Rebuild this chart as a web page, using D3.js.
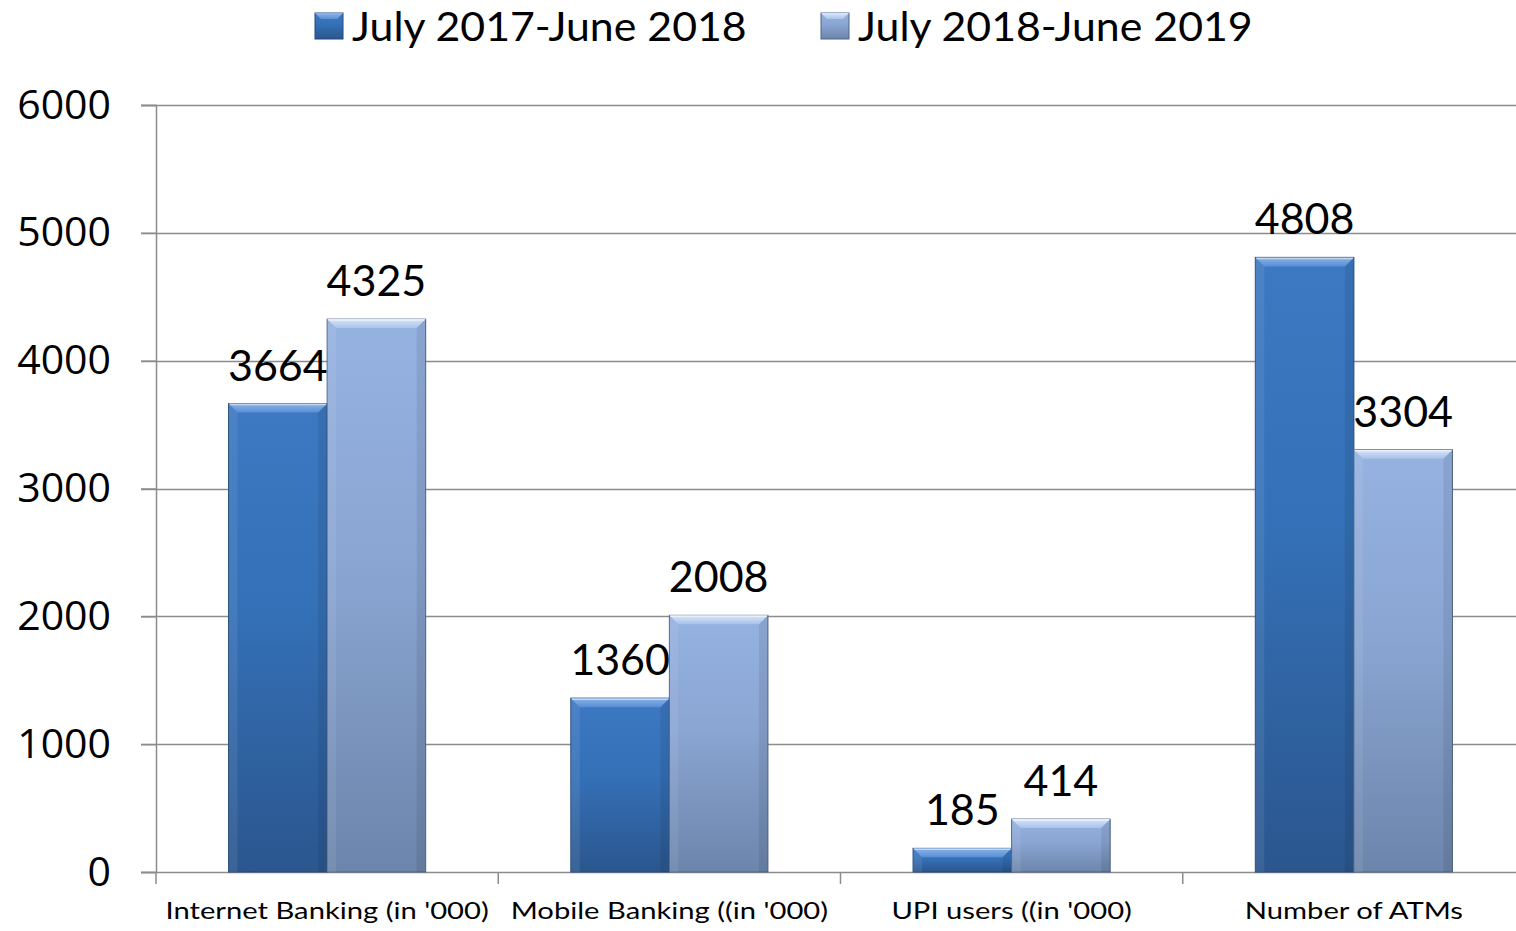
<!DOCTYPE html>
<html>
<head>
<meta charset="utf-8">
<script src="https://cdn.jsdelivr.net/npm/d3@7"></script>
<style>
  html, body { margin: 0; padding: 0; background: #ffffff; }
  svg { display: block; }
</style>
</head>
<body>
<svg id="chart" width="1516" height="931"></svg>
<script>
// Chart data
const categories = ["Internet Banking (in '000)", "Mobile Banking ((in '000)", "UPI users ((in '000)", "Number of ATMs"];
const seriesNames = ["July 2017-June 2018", "July 2018-June 2019"];
const values2017_18 = [3664, 1360, 185, 4808];
const values2018_19 = [4325, 2008, 414, 3304];
const yTicks = [0, 1000, 2000, 3000, 4000, 5000, 6000];

const seriesValues = [values2017_18, values2018_19];

const svg = d3.select("#chart");
const W = 1516, H = 931;

const plot = { left: 156, right: 1525, top: 105, bottom: 872 };

const x0 = d3.scaleBand().domain(categories).range([plot.left, plot.right]).paddingInner(0).paddingOuter(0);
const x1 = d3.scaleBand().domain(seriesNames).range([x0.bandwidth() * 0.212, x0.bandwidth() * 0.788]).padding(0);
const y = d3.scaleLinear().domain([0, 6000]).range([plot.bottom, plot.top]);

// Gradients for bar bodies and top bevels
const defs = svg.append("defs");
const palettes = [
  { body: ["#3d79c3", "#3470b6", "#2b568e"], bevel: ["#8fb6ea", "#5a8fd6"], stroke: "#24497a" },
  { body: ["#95b2e1", "#8aa5d2", "#6c85ab"], bevel: ["#dbe8fa", "#aac3ea"], stroke: "#4f6486" }
];
palettes.forEach((p, i) => {
  const g = defs.append("linearGradient").attr("id", "body" + i)
    .attr("x1", 0).attr("y1", 0).attr("x2", 0).attr("y2", 1);
  g.append("stop").attr("offset", "0%").attr("stop-color", p.body[0]);
  g.append("stop").attr("offset", "45%").attr("stop-color", p.body[1]);
  g.append("stop").attr("offset", "100%").attr("stop-color", p.body[2]);
  const b = defs.append("linearGradient").attr("id", "bevel" + i)
    .attr("x1", 0).attr("y1", 0).attr("x2", 0).attr("y2", 1);
  b.append("stop").attr("offset", "0%").attr("stop-color", p.bevel[0]);
  b.append("stop").attr("offset", "100%").attr("stop-color", p.bevel[1]);
});

// Gridlines
const gridColor = "#8c8c8c";
svg.append("g").selectAll("line").data(yTicks.filter(d => d > 0)).join("line")
  .attr("x1", plot.left - 15).attr("x2", W)
  .attr("y1", d => Math.round(y(d)) + 0.5).attr("y2", d => Math.round(y(d)) + 0.5)
  .attr("stroke", gridColor).attr("stroke-width", 1.5);

// Y axis
const yAxis = svg.append("g").attr("transform", `translate(${plot.left},0)`)
  .call(d3.axisLeft(y).tickValues(yTicks).tickSize(15).tickPadding(30).tickFormat(d3.format("d")));
yAxis.select(".domain").attr("stroke", gridColor).attr("stroke-width", 1.5);
yAxis.selectAll(".tick line").attr("stroke", gridColor).attr("stroke-width", 1.5);
yAxis.selectAll(".tick text")
  .attr("font-family", "'Open Sans', sans-serif").attr("font-size", 41).attr("fill", "#000");

// X axis
const boundaries = categories.map(c => x0(c)).concat([plot.right]);
svg.append("line")
  .attr("x1", plot.left - 15).attr("x2", W)
  .attr("y1", plot.bottom + 0.5).attr("y2", plot.bottom + 0.5)
  .attr("stroke", gridColor).attr("stroke-width", 1.5);
svg.append("g").selectAll("line").data(boundaries).join("line")
  .attr("x1", d => d).attr("x2", d => d)
  .attr("y1", plot.bottom).attr("y2", plot.bottom + 12)
  .attr("stroke", gridColor).attr("stroke-width", 1.5);
// Category labels: slightly widened lettering
svg.append("g").selectAll("text").data(categories).join("text")
  .attr("transform", d => `translate(${x0(d) + x0.bandwidth() / 2},919) scale(1.27,1)`)
  .attr("text-anchor", "middle")
  .attr("font-family", "Lato, sans-serif").attr("font-size", 23).attr("fill", "#000")
  .text(d => d);

// Bars
const bevel = 9;
const groups = svg.append("g").selectAll("g").data(categories).join("g")
  .attr("transform", d => `translate(${x0(d)},0)`);

seriesNames.forEach((s, si) => {
  const p = palettes[si];
  groups.each(function (c, ci) {
    const v = seriesValues[si][ci];
    const g = d3.select(this);
    const bx = x1(s), bw = x1.bandwidth();
    const by = y(v), bh = y(0) - y(v);
    g.append("rect")
      .attr("x", bx).attr("y", by).attr("width", bw).attr("height", bh)
      .attr("fill", `url(#body${si})`)
      .attr("stroke", p.stroke).attr("stroke-width", 1);
    const bv = Math.min(bevel, bh / 2);
    // top bevel
    g.append("path")
      .attr("d", `M${bx},${by} L${bx + bw},${by} L${bx + bw - bv},${by + bv} L${bx + bv},${by + bv} Z`)
      .attr("fill", `url(#bevel${si})`).attr("opacity", 0.95);
    // side bevels
    g.append("path")
      .attr("d", `M${bx},${by} L${bx + bv},${by + bv} L${bx + bv},${y(0)} L${bx},${y(0)} Z`)
      .attr("fill", "#ffffff").attr("opacity", 0.08);
    g.append("path")
      .attr("d", `M${bx + bw},${by} L${bx + bw - bv},${by + bv} L${bx + bw - bv},${y(0)} L${bx + bw},${y(0)} Z`)
      .attr("fill", "#000000").attr("opacity", 0.08);
    g.append("line")
      .attr("x1", bx + 1).attr("x2", bx + bw - 1).attr("y1", by + 1).attr("y2", by + 1)
      .attr("stroke", "#ffffff").attr("stroke-opacity", 0.5).attr("stroke-width", 1.5);
    // value label
    g.append("text")
      .attr("x", bx + bw / 2).attr("y", by - 23)
      .attr("text-anchor", "middle")
      .attr("font-family", "Lato, sans-serif").attr("font-size", 43).attr("fill", "#000")
      .text(v);
  });
});

// Legend
const legendItems = [
  { name: seriesNames[0], x: 315 },
  { name: seriesNames[1], x: 821 }
];
const lg = svg.append("g").selectAll("g").data(legendItems).join("g")
  .attr("transform", d => `translate(${d.x},13)`);
lg.append("rect").attr("width", 28).attr("height", 26)
  .attr("fill", (d, i) => `url(#body${i})`).attr("stroke", (d, i) => palettes[i].stroke).attr("stroke-width", 1);
lg.append("path").attr("d", "M0,0 L28,0 L22,6 L6,6 Z").attr("fill", (d, i) => `url(#bevel${i})`);
lg.append("text").attr("transform", "translate(37,28) scale(1.045,1)")
  .attr("font-family", "Lato, sans-serif").attr("font-size", 41).attr("fill", "#000")
  .text(d => d.name);
</script>
</body>
</html>
